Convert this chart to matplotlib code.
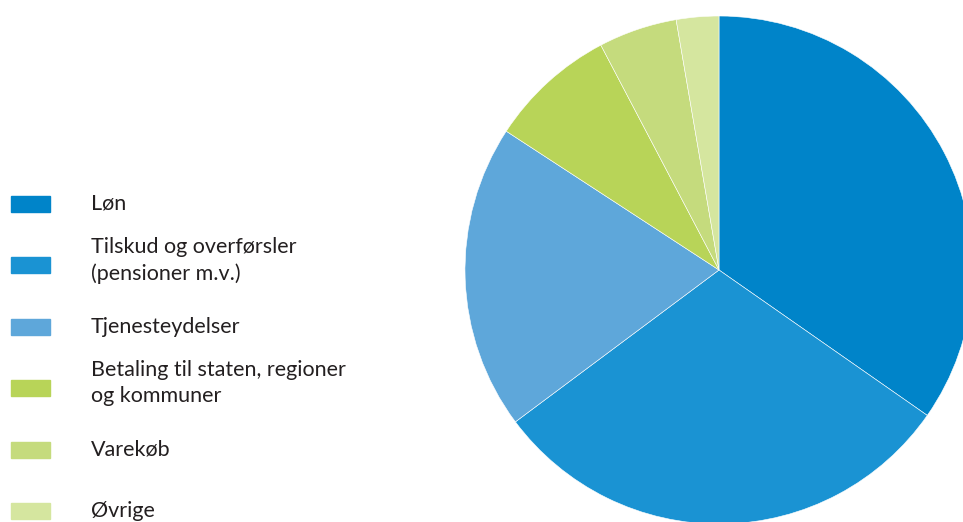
import matplotlib.pyplot as plt
from matplotlib.patches import Rectangle

# Data
labels = ['Løn', 'Tilskud og overførsler\n(pensioner m.v.)', 'Tjenesteydelser',
          'Betaling til staten, regioner\nog kommuner', 'Varekøb', 'Øvrige']
shares = [34.7, 30.1, 19.4, 8.1, 5.0, 2.7]
colors = ['#0084c9', '#1a93d3', '#5ea7da', '#b8d458', '#c5db7d', '#d5e69f']

W, H = 963, 522
fig = plt.figure(figsize=(W / 100, H / 100), dpi=100)
plt.rcParams['font.family'] = ['Lato', 'DejaVu Sans']

# Pie
cx, cy, r = 719, 270, 254
ax = fig.add_axes([(cx - r) / W, (H - cy - r) / H, 2 * r / W, 2 * r / H])
ax.pie(shares, colors=colors, startangle=90, counterclock=False, radius=1,
       wedgeprops=dict(edgecolor='white', linewidth=0.4))
ax.set_xlim(-1, 1); ax.set_ylim(-1, 1)
ax.set_aspect('auto')
ax.axis('off')

# Legend
y0, dy = 204, 61.4
for i, (lab, col) in enumerate(zip(labels, colors)):
    yc = y0 + i * dy
    fig.patches.append(Rectangle((11 / W, (H - yc - 8) / H), 39 / W, 16 / H,
                                 transform=fig.transFigure, color=col))
    ty = yc - 5 if '\n' in lab else yc
    fig.text(91 / W, (H - ty) / H, lab, fontsize=15.5, color='#231f20',
             va='center', ha='left', linespacing=1.4)

fig.savefig('out.png', dpi=100)
